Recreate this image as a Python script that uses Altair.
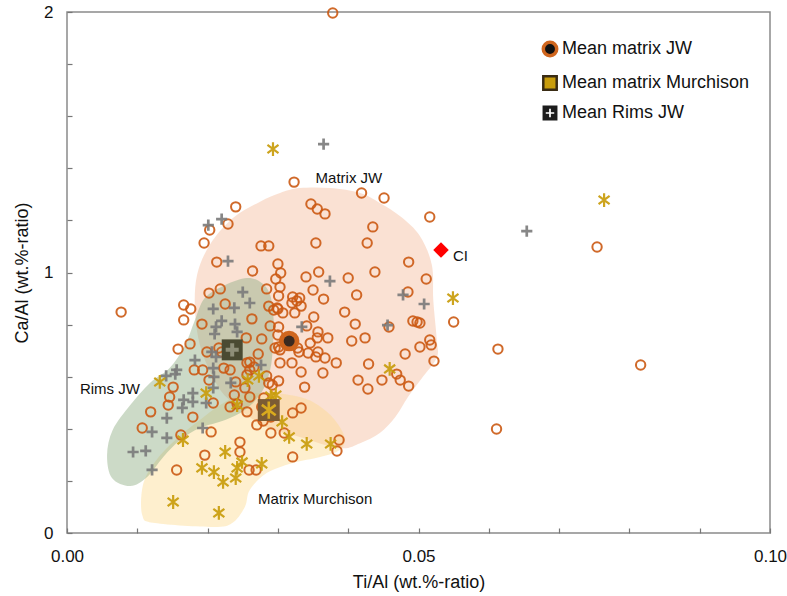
import altair as alt
import pandas as pd

# ---- Matrix JW analyses (Ti/Al, Ca/Al) ----
jw_ti = [0.0378, 0.0077, 0.0323, 0.0240, 0.0229, 0.0203, 0.0195, 0.0213, 0.0419, 0.0451,
         0.0516, 0.0754, 0.0816, 0.0613, 0.0611, 0.0550, 0.0347, 0.0356, 0.0367, 0.0435,
         0.0276, 0.0287, 0.0354, 0.0427, 0.0264, 0.0300, 0.0304, 0.0297, 0.0340, 0.0358,
         0.0400, 0.0438, 0.0486, 0.0511, 0.0284, 0.0303, 0.0301, 0.0350, 0.0365, 0.0412,
         0.0485, 0.0321, 0.0327, 0.0331, 0.0320, 0.0333, 0.0287, 0.0299, 0.0307, 0.0324,
         0.0351, 0.0395, 0.0410, 0.0458, 0.0263, 0.0289, 0.0301, 0.0341, 0.0357, 0.0356,
         0.0371, 0.0405, 0.0424, 0.0492, 0.0498, 0.0502, 0.0516, 0.0518, 0.0502, 0.0481,
         0.0522, 0.0255, 0.0277, 0.0300, 0.0301, 0.0328, 0.0346, 0.0343, 0.0357, 0.0354,
         0.0367, 0.0383, 0.0303, 0.0320, 0.0333, 0.0364, 0.0414, 0.0429, 0.0448, 0.0469,
         0.0474, 0.0486, 0.0338, 0.0301, 0.0287, 0.0272, 0.0260, 0.0330, 0.0428, 0.0166,
         0.0176, 0.0166, 0.0158, 0.0175, 0.0192, 0.0225, 0.0218, 0.0202, 0.0294, 0.0199,
         0.0216, 0.0181, 0.0193, 0.0202, 0.0223, 0.0232, 0.0256, 0.0260, 0.0256, 0.0240,
         0.0253, 0.0260, 0.0238, 0.0242, 0.0256, 0.0151, 0.0146, 0.0144, 0.0119, 0.0107,
         0.0179, 0.0205, 0.0162, 0.0246, 0.0246, 0.0196, 0.0270, 0.0290, 0.0277, 0.0280,
         0.0292, 0.0296, 0.0156, 0.0259, 0.0269, 0.0309, 0.0321, 0.0333, 0.0321, 0.0387,
         0.0384, 0.0232, 0.0208, 0.0279, 0.0290, 0.0300, 0.0303, 0.0220, 0.0266, 0.0284]
jw_ca = [1.996, 0.848, 1.347, 1.252, 1.186, 1.163, 1.113, 1.040, 1.305, 1.286,
         1.213, 1.098, 0.645, 0.706, 0.399, 0.810, 1.263, 1.244, 1.225, 1.175,
         1.102, 1.102, 1.113, 1.113, 1.006, 1.033, 0.998, 0.975, 0.983, 1.002,
         0.979, 1.002, 1.040, 0.975, 0.937, 0.944, 0.910, 0.933, 0.898, 0.914,
         0.925, 0.906, 0.891, 0.902, 0.883, 0.871, 0.871, 0.864, 0.845, 0.845,
         0.829, 0.848, 0.802, 0.791, 0.822, 0.795, 0.791, 0.795, 0.772, 0.749,
         0.749, 0.737, 0.749, 0.814, 0.810, 0.806, 0.741, 0.722, 0.714, 0.687,
         0.660, 0.749, 0.745, 0.760, 0.714, 0.710, 0.729, 0.691, 0.695, 0.676,
         0.672, 0.653, 0.653, 0.653, 0.618, 0.614, 0.587, 0.649, 0.587, 0.610,
         0.587, 0.564, 0.560, 0.584, 0.576, 0.687, 0.656, 0.695, 0.553, 0.875,
         0.860, 0.818, 0.706, 0.726, 0.802, 0.879, 0.937, 0.921, 0.856, 0.695,
         0.710, 0.626, 0.626, 0.587, 0.633, 0.626, 0.653, 0.626, 0.607, 0.580,
         0.557, 0.522, 0.530, 0.495, 0.465, 0.560, 0.522, 0.491, 0.465, 0.403,
         0.445, 0.388, 0.376, 0.349, 0.311, 0.299, 0.415, 0.384, 0.484, 0.518,
         0.568, 0.710, 0.242, 0.242, 0.242, 0.384, 0.461, 0.480, 0.292, 0.357,
         0.315, 0.484, 0.499, 0.430, 0.445, 0.860, 0.703, 0.695, 0.637, 0.603]

# ---- Rims JW analyses ----
rim_ti = [0.0365, 0.0201, 0.0220, 0.0229, 0.0654, 0.0374, 0.0478, 0.0508, 0.0456, 0.0334,
          0.0250, 0.0260, 0.0208, 0.0238, 0.0220, 0.0212, 0.0210, 0.0239, 0.0242, 0.0206,
          0.0212, 0.0182, 0.0156, 0.0154, 0.0141, 0.0208, 0.0209, 0.0233, 0.0179, 0.0166,
          0.0179, 0.0198, 0.0164, 0.0142, 0.0121, 0.0142, 0.0193, 0.0094, 0.0112, 0.0121,
          0.0276, 0.0208]
rim_ca = [1.493, 1.182, 1.205, 1.044, 1.159, 0.967, 0.914, 0.879, 0.798, 0.791,
          0.925, 0.883, 0.860, 0.864, 0.814, 0.791, 0.764, 0.802, 0.772, 0.695,
          0.676, 0.664, 0.626, 0.610, 0.603, 0.633, 0.599, 0.576, 0.537, 0.511,
          0.503, 0.499, 0.480, 0.441, 0.388, 0.365, 0.403, 0.311, 0.315, 0.242,
          0.645, 0.557]

# ---- Matrix Murchison analyses ----
mur_ti = [0.0293, 0.0764, 0.0549, 0.0459, 0.0132, 0.0198, 0.0242, 0.0290, 0.0297, 0.0306,
          0.0316, 0.0341, 0.0375, 0.0225, 0.0192, 0.0209, 0.0222, 0.0242, 0.0249, 0.0240,
          0.0277, 0.0165, 0.0151, 0.0216, 0.0257, 0.0273]
mur_ca = [1.474, 1.278, 0.902, 0.630, 0.580, 0.537, 0.491, 0.526, 0.530, 0.426,
          0.369, 0.342, 0.342, 0.311, 0.250, 0.234, 0.196, 0.250, 0.273, 0.211,
          0.265, 0.357, 0.119, 0.077, 0.587, 0.603]

# ---- Group means and CI chondrite ----
mean_names = ["Mean matrix JW", "Mean matrix Murchison", "Mean Rims JW"]
mean_ti = [0.0316, 0.0287, 0.0235]
mean_ca = [0.737, 0.472, 0.703]
ci_ti = [0.0532]
ci_ca = [1.086]

# ---- Field outlines (Ti/Al, Ca/Al) ----
field_jw_ti = [0.0274, 0.0236, 0.0203, 0.0185, 0.0182, 0.0189, 0.0206, 0.0228, 0.0277, 0.0331,
               0.0388, 0.0417, 0.0445, 0.0467, 0.0485, 0.0505, 0.0526, 0.0526, 0.0521, 0.0519,
               0.0502, 0.0475, 0.0445, 0.0417, 0.0374, 0.0331, 0.0303]
field_jw_ca = [1.271, 1.209, 1.106, 0.990, 0.856, 0.722, 0.607, 0.518, 0.415, 0.369,
               0.326, 0.345, 0.384, 0.445, 0.522, 0.595, 0.674, 0.741, 0.894, 1.029,
               1.140, 1.214, 1.267, 1.305, 1.324, 1.324, 1.305]
field_rim_ti = [0.0256, 0.0277, 0.0289, 0.0294, 0.0293, 0.0289, 0.0277, 0.0253, 0.0225, 0.0189,
                0.0161, 0.0137, 0.0114, 0.0090, 0.0064, 0.0057, 0.0065, 0.0090, 0.0118, 0.0146,
                0.0168, 0.0182, 0.0196, 0.0225]
field_rim_ca = [0.979, 0.960, 0.914, 0.818, 0.722, 0.626, 0.541, 0.472, 0.434, 0.403,
                0.357, 0.292, 0.215, 0.180, 0.211, 0.299, 0.395, 0.491, 0.576, 0.633,
                0.722, 0.818, 0.902, 0.952]
field_mur_ti = [0.0108, 0.0107, 0.0125, 0.0208, 0.0235, 0.0253, 0.0260, 0.0284, 0.0321, 0.0360,
                0.0388, 0.0395, 0.0381, 0.0357, 0.0331, 0.0289, 0.0246, 0.0218, 0.0189, 0.0154,
                0.0125]
field_mur_ca = [0.184, 0.069, 0.038, 0.023, 0.038, 0.100, 0.165, 0.230, 0.269, 0.292,
                0.319, 0.365, 0.434, 0.491, 0.522, 0.537, 0.530, 0.491, 0.434, 0.357,
                0.273]

# ---- Field labels ----
label_text = ["Matrix JW", "Rims JW", "Matrix Murchison"]
label_ti = [0.0401, 0.0061, 0.0353]
label_ca = [1.363, 0.553, 0.131]

# ---- Axis ticks ----
x_ticks = [0, 0.01, 0.02, 0.03, 0.04, 0.05, 0.06, 0.07, 0.08, 0.09, 0.1]
y_ticks = [0, 0.2, 0.4, 0.6, 0.8, 1, 1.2, 1.4, 1.6, 1.8, 2]

FONT = "Liberation Sans"
FRAME = "#8a8a8a"

PLUS = "M-1,0L1,0M0,-1L0,1"
STAR = "M0,-1L0,1M-0.8,-0.6L0.8,0.6M-0.8,0.6L0.8,-0.6"
SQUARE_PLUS = ("M-1,-1L1,-1L1,1L-1,1Z"
               "M-0.24,-0.74L-0.24,-0.24L-0.74,-0.24L-0.74,0.24L-0.24,0.24L-0.24,0.74"
               "L0.24,0.74L0.24,0.24L0.74,0.24L0.74,-0.24L0.24,-0.24L0.24,-0.74Z")

xs = alt.Scale(domain=[0, 0.1], nice=False, zero=False)
ys = alt.Scale(domain=[0, 2], nice=False, zero=False)

x_axis = alt.Axis(
    values=x_ticks, title="Ti/Al (wt.%-ratio)", grid=False, domain=False,
    tickSize=5, offset=-5, tickColor="#777", tickWidth=1.2, labelFlush=False,
    labelExpr="datum.value == 0 || datum.value == 0.05 || datum.value == 0.1 ? format(datum.value, '.2f') : ''",
    labelPadding=15, labelFontSize=17, titleFontSize=18, titleFontWeight="normal",
    titlePadding=9, labelColor="#111", titleColor="#111",
)
y_axis = alt.Axis(
    values=y_ticks, title="Ca/Al (wt.%-ratio)", grid=False, domain=False,
    tickSize=5, offset=-5, tickColor="#777", tickWidth=1.2, labelFlush=False,
    labelExpr="datum.value == 0 || datum.value == 1 || datum.value == 2 ? format(datum.value, 'd') : ''",
    labelPadding=14, labelFontSize=17, titleFontSize=18, titleFontWeight="normal",
    titlePadding=12, labelColor="#111", titleColor="#111",
)


def field_layer(ti, ca, colour, opacity):
    df = pd.DataFrame({"ti": ti, "ca": ca, "i": range(len(ti))})
    return alt.Chart(df).mark_line(
        interpolate="cardinal-closed", fill=colour, fillOpacity=opacity,
        strokeWidth=0, strokeOpacity=0,
    ).encode(
        x=alt.X("ti:Q", scale=xs, axis=x_axis),
        y=alt.Y("ca:Q", scale=ys, axis=y_axis),
        order=alt.Order("i:Q"),
    )


def scatter(ti, ca):
    return alt.Chart(pd.DataFrame({"ti": ti, "ca": ca})).encode(
        x=alt.X("ti:Q", scale=xs), y=alt.Y("ca:Q", scale=ys)
    )


field_jw = field_layer(field_jw_ti, field_jw_ca, "#f3b896", 0.42)
field_mur = field_layer(field_mur_ti, field_mur_ca, "#fcd98a", 0.42)
field_rim = field_layer(field_rim_ti, field_rim_ca, "#8fae83", 0.45)

jw_pts = scatter(jw_ti, jw_ca).mark_point(
    shape="circle", filled=False, size=88, strokeWidth=2, color="#cc5a14", opacity=0.9
)
rim_pts = scatter(rim_ti, rim_ca).mark_point(
    shape=PLUS, filled=False, size=125, strokeWidth=2.7, color="#7b7b7b", opacity=0.9
)
mur_pts = scatter(mur_ti, mur_ca).mark_point(
    shape=STAR, filled=False, size=190, strokeWidth=2.2, color="#c99d0c", opacity=0.92
)

means = pd.DataFrame({"series": mean_names, "ti": mean_ti, "ca": mean_ca})
leg = alt.Legend(title=None)
mean_base = alt.Chart(means).encode(
    x=alt.X("ti:Q", scale=xs), y=alt.Y("ca:Q", scale=ys)
)
mean_legend = mean_base.mark_point(filled=True, size=196, opacity=1).encode(
    shape=alt.Shape("series:N", scale=alt.Scale(domain=mean_names, range=["circle", "square", SQUARE_PLUS]), legend=leg),
    fill=alt.Fill("series:N", scale=alt.Scale(domain=mean_names, range=["#111111", "#c99d0c", "#1c1c1c"]), legend=leg),
    stroke=alt.Stroke("series:N", scale=alt.Scale(domain=mean_names, range=["#d0661e", "#3a2c14", "#1c1c1c"]), legend=leg),
    strokeWidth=alt.StrokeWidth("series:N", scale=alt.Scale(domain=mean_names, range=[3.5, 1.5, 0.5]), legend=leg),
)

# Overlays giving the plotted means their full look
jw_mean = mean_base.transform_filter(alt.datum.series == "Mean matrix JW")
jw_ring = jw_mean.mark_point(shape="circle", filled=True, size=420, color="#d0661e", opacity=1)
jw_dot = jw_mean.mark_point(shape="circle", filled=True, size=120, color="#3b2a20", opacity=1)
mur_mean = mean_base.transform_filter(alt.datum.series == "Mean matrix Murchison")
mur_box = mur_mean.mark_point(shape="square", filled=True, size=480, color="#7b5b34", opacity=1)
mur_star = mur_mean.mark_point(shape=STAR, filled=False, size=300, strokeWidth=2.6, color="#d9aa1e", opacity=1)
rim_mean = mean_base.transform_filter(alt.datum.series == "Mean Rims JW")
rim_box = rim_mean.mark_point(shape="square", filled=True, size=440, color="#4a4a32", opacity=1)
rim_plus = rim_mean.mark_point(shape=PLUS, filled=False, size=170, strokeWidth=4, color="#8e8e78", opacity=1)

ci = pd.DataFrame({"ti": ci_ti, "ca": ci_ca, "name": ["CI"]})
ci_pt = alt.Chart(ci).mark_point(shape="diamond", filled=True, size=240, color="#ff0000", opacity=1).encode(
    x=alt.X("ti:Q", scale=xs), y=alt.Y("ca:Q", scale=ys)
)
ci_txt = alt.Chart(ci).mark_text(align="left", baseline="middle", dx=12, dy=6, fontSize=15, font=FONT, color="#111").encode(
    x=alt.X("ti:Q", scale=xs), y=alt.Y("ca:Q", scale=ys), text="name:N"
)

labels = pd.DataFrame({"t": label_text, "ti": label_ti, "ca": label_ca})
label_marks = alt.Chart(labels).mark_text(align="center", baseline="middle", fontSize=15, font=FONT, color="#111").encode(
    x=alt.X("ti:Q", scale=xs), y=alt.Y("ca:Q", scale=ys), text="t:N"
)

chart = alt.layer(
    field_jw, field_mur, field_rim,
    jw_pts, rim_pts, mur_pts,
    mean_legend, jw_ring, jw_dot, mur_box, mur_star, rim_box, rim_plus,
    ci_pt, ci_txt, label_marks,
).properties(
    width=703, height=521,
    padding={"left": 67, "top": 12, "right": 17, "bottom": 63},
    autosize=alt.AutoSizeParams(type="none"),
).configure(
    font=FONT,
).configure_view(
    stroke=FRAME, strokeWidth=1.5,
).configure_legend(
    orient="none", legendX=474, legendY=28, padding=0,
    labelFontSize=18, labelFont=FONT, labelColor="#111", labelOffset=3,
    symbolSize=180, rowPadding=8, labelLimit=400,
)

chart.save("out.html", embed_options={"renderer": "svg", "actions": False})
